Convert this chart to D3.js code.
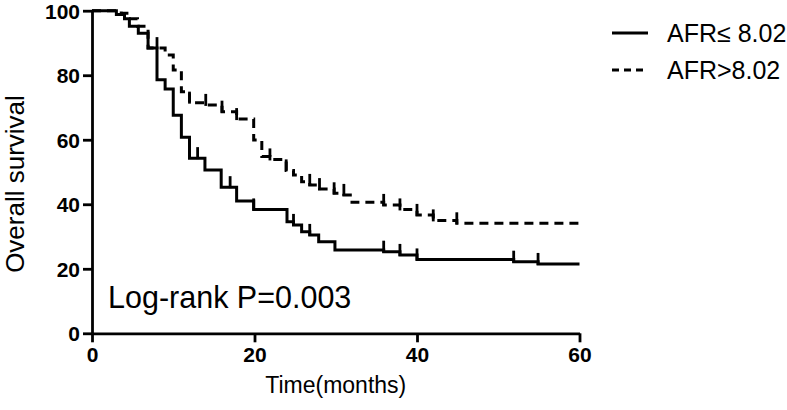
<!DOCTYPE html>
<html>
<head>
<meta charset="utf-8">
<script src="https://cdn.jsdelivr.net/npm/d3@7"></script>
<style>
  html, body { margin: 0; padding: 0; background: #fff; }
  svg { display: block; }
  text { font-family: "Liberation Sans", Arial, Helvetica, sans-serif; fill: #000; }
</style>
</head>
<body>
<svg id="chart" width="787" height="410"></svg>
<script>
// ---- data ----
const xTicks = [0, 20, 40, 60];
const yTicks = [0, 20, 40, 60, 80, 100];
const seriesNames = ["AFR\u2264 8.02", "AFR>8.02"];

const lowTime = [0, 3.0, 4.0, 4.6, 5.7, 6.9, 8.0, 9.0, 10.0, 11.0, 12.0, 13.9, 15.9, 17.8, 19.9, 24.0, 24.8, 25.8, 26.8, 27.9, 29.9, 35.9, 37.9, 40.0, 51.9, 54.9, 60];
const lowSurv = [100, 98.8, 97.5, 95.2, 93.0, 88.4, 78.6, 75.7, 67.6, 60.8, 54.3, 50.6, 45.3, 41.0, 38.4, 34.6, 33.6, 31.5, 30.5, 28.4, 25.8, 25.3, 24.3, 22.9, 22.2, 21.5, 21.5];
const lowCensor = [13.0, 17.0, 19.9, 24.8, 26.8, 35.9, 37.9, 40.0, 51.9, 54.9];

const highTime = [0, 3.6, 4.5, 5.6, 6.9, 9.0, 10.0, 11.0, 12.0, 14.0, 16.0, 17.8, 19.9, 20.9, 21.9, 23.9, 24.8, 25.8, 26.8, 28.0, 29.8, 31.0, 32.0, 35.9, 37.9, 40.0, 42.0, 44.9, 60];
const highSurv = [100, 99.2, 97.5, 95.2, 88.4, 86.3, 81.6, 74.9, 71.5, 70.8, 68.7, 66.4, 59.9, 54.8, 53.9, 50.5, 49.1, 47.0, 46.0, 44.7, 43.4, 42.9, 40.6, 39.8, 38.4, 36.7, 35.0, 34.1, 34.1];
const highCensor = [8.0, 12.0, 14.0, 16.0, 17.8, 21.9, 23.9, 26.8, 28.0, 29.8, 31.0, 35.9, 37.9, 40.0, 42.0, 44.9];

// ---- layout ----
const svg = d3.select("#chart");
const x = d3.scaleLinear().domain([0, 60]).range([92, 579.5]);
const y = d3.scaleLinear().domain([0, 100]).range([333.3, 10.7]);

// axes
const xAxis = d3.axisBottom(x).tickValues(xTicks).tickSize(9).tickSizeOuter(0).tickPadding(5);
const yAxis = d3.axisLeft(y).tickValues(yTicks).tickSize(9).tickSizeOuter(0).tickPadding(3);

const gx = svg.append("g").attr("transform", `translate(0,${y(0)})`).call(xAxis);
const gy = svg.append("g").attr("transform", `translate(${x(0)},0)`).call(yAxis);
[gx, gy].forEach(g => {
  g.select(".domain").attr("stroke", "#000").attr("stroke-width", 2.8);
  g.selectAll(".tick line").attr("stroke", "#000").attr("stroke-width", 2.8);
  g.selectAll(".tick text")
    .attr("font-family", "'Liberation Sans', Arial, sans-serif")
    .attr("font-weight", "bold").attr("font-size", 21).attr("fill", "#000");
});
gy.selectAll(".tick text").attr("dy", "0.36em");

// curves
const line = d3.line().x(d => x(d[0])).y(d => y(d[1])).curve(d3.curveStepAfter);
const lowPts = lowTime.map((t, i) => [t, lowSurv[i]]);
const highPts = highTime.map((t, i) => [t, highSurv[i]]);

function levelAt(times, surv, t) {
  const i = d3.bisectRight(times, t) - 1;
  return surv[Math.max(0, i)];
}

const curves = [
  { pts: highPts, times: highTime, surv: highSurv, cens: highCensor, dash: "9,6" },
  { pts: lowPts, times: lowTime, surv: lowSurv, cens: lowCensor, dash: null }
];

curves.forEach(c => {
  svg.append("path").datum(c.pts)
    .attr("d", line).attr("fill", "none").attr("stroke", "#000")
    .attr("stroke-width", 3)
    .attr("stroke-dasharray", c.dash);
  svg.append("g").selectAll("line").data(c.cens).join("line")
    .attr("x1", d => x(d)).attr("x2", d => x(d))
    .attr("y1", d => y(levelAt(c.times, c.surv, d)) + 1)
    .attr("y2", d => y(levelAt(c.times, c.surv, d)) - 11)
    .attr("stroke", "#000").attr("stroke-width", 2.8);
});

// axis titles
svg.append("text")
  .attr("transform", `translate(24,184) rotate(-90)`)
  .attr("text-anchor", "middle").attr("font-size", 26)
  .text("Overall survival");

svg.append("text")
  .attr("x", (x(0) + x(60)) / 2).attr("y", 393)
  .attr("text-anchor", "middle").attr("font-size", 23)
  .text("Time(months)");

svg.append("text")
  .attr("x", 108).attr("y", 308)
  .attr("font-size", 30.5)
  .text("Log-rank P=0.003");

// legend
const legend = svg.append("g");
const legY = [33, 70];
const legDash = [null, "7,5"];
seriesNames.forEach((name, i) => {
  legend.append("line")
    .attr("x1", 612).attr("x2", 648)
    .attr("y1", legY[i]).attr("y2", legY[i])
    .attr("stroke", "#000").attr("stroke-width", 3)
    .attr("stroke-dasharray", legDash[i]);
  legend.append("text")
    .attr("x", 667).attr("y", legY[i] + 8.5)
    .attr("font-size", 25)
    .text(name);
});
</script>
</body>
</html>
